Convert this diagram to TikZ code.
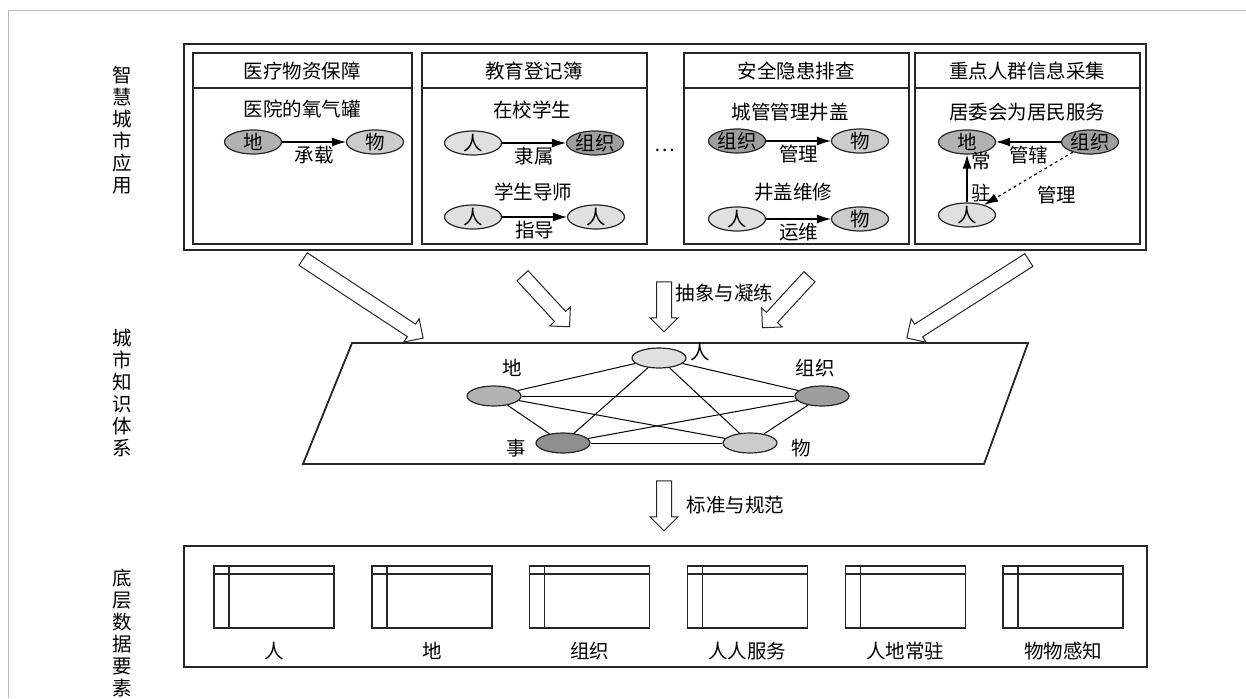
\documentclass[tikz,border=0pt]{standalone}
\usepackage{fontspec}
\setmainfont{Noto Sans CJK SC}
\usetikzlibrary{shapes.geometric,shapes.arrows,arrows.meta,calc}

\definecolor{grisren}{gray}{0.88}
\definecolor{grisdi}{gray}{0.70}
\definecolor{griszu}{gray}{0.62}
\definecolor{griswu}{gray}{0.80}
\definecolor{grisshi}{gray}{0.56}

% flecha hueca entre dos puntos: origen, punta, nombre
\newcommand{\flechahueca}[3]{%
  \path let \p1=($(#2)-(#1)$) in
    node[hueca, minimum height={veclen(\x1,\y1)}, rotate={atan2(\y1,\x1)}]
    (#3) at ($(#1)!0.5!(#2)$) {};}

\begin{document}
\begin{tikzpicture}[x=1pt, y=-1pt, font=\fontsize{19.5}{22}\selectfont,
        marco/.style={draw=black!85, line width=1.8pt},
        panel/.style={draw=black!85, line width=1.4pt},
        ent/.style 2 args={ellipse, draw=black!85, line width=1.2pt, fill=#1,
        minimum width=57pt, minimum height=24pt, inner sep=0pt, label=center:#2},
        nodo/.style={ellipse, draw=black!85, line width=1.2pt, fill=#1,
        minimum width=54pt, minimum height=20pt, inner sep=0pt},
        flecha/.style={line width=1.1pt, -{Latex[length=14pt,width=9pt]}},
        arista/.style={line width=1pt},
        hueca/.style={single arrow, draw=black!85, line width=1pt, fill=white,
        inner xsep=0pt, inner ysep=7pt, single arrow head extend=6.5pt,
        single arrow head indent=0pt},
        tabla/.style={draw=black!85, line width=1.4pt}
    ]
    \useasboundingbox (0,0) rectangle (1246,698);
    \draw[gray!55, line width=1pt] (8,698) -- (8,11) -- (1246,11);

    % etiquetas de nivel
    \node[align=center] (nivel1) at (122,130) {智\\慧\\城\\市\\应\\用};
    \node[align=center] (nivel2) at (122,393) {城\\市\\知\\识\\体\\系};
    \node[align=center] (nivel3) at (122,633) {底\\层\\数\\据\\要\\素};

    % aplicaciones
    \draw[marco] (184,44) rectangle (1146,250);
    \foreach \xa/\xb in {193/412, 422/647, 684/909, 915/1140}{
        \draw[panel] (\xa,53) rectangle (\xb,244);
        \draw[panel] (\xa,88) -- (\xb,88);
    }
    \node (t1) at (302,71) {医疗物资保障};
    \node (s1) at (302,109) {医院的氧气罐};
    \node[ent={grisdi}{地}] (a1) at (253,142) {};
    \node[ent={griswu}{物}] (b1) at (375,142) {};
    \draw[flecha] (a1) -- node[below] {承载} (b1);

    \node (t2) at (534,71) {教育登记簿};
    \node (s2) at (532,110) {在校学生};
    \node[ent={grisren}{人}] (a2) at (473,143) {};
    \node[ent={griszu}{组织}] (b2) at (595,143) {};
    \draw[flecha] (a2) -- node[below] {隶属} (b2);
    \node (s3) at (533,192) {学生导师};
    \node[ent={grisren}{人}] (a3) at (473,217) {};
    \node[ent={grisren}{人}] (b3) at (596,217) {};
    \draw[flecha] (a3) -- node[below] {指导} (b3);

    \node (puntos) at (665,150) {…};

    \node (t3) at (796,71) {安全隐患排查};
    \node (s4) at (790,112) {城管管理井盖};
    \node[ent={griszu}{组织}] (a4) at (737,141) {};
    \node[ent={griswu}{物}] (b4) at (860,141) {};
    \draw[flecha] (a4) -- node[below] {管理} (b4);
    \node (s5) at (793,192) {井盖维修};
    \node[ent={grisren}{人}] (a5) at (737,219) {};
    \node[ent={griswu}{物}] (b5) at (860,219) {};
    \draw[flecha] (a5) -- node[below] {运维} (b5);

    \node (t4) at (1027,71) {重点人群信息采集};
    \node (s6) at (1027,112) {居委会为居民服务};
    \node[ent={grisdi}{地}] (di4) at (967,142) {};
    \node[ent={griszu}{组织}] (zu4) at (1090,142) {};
    \node[ent={grisren}{人}] (ren4) at (967,215) {};
    \draw[flecha] (zu4) -- node[below] {管辖} (di4);
    \draw[flecha] (ren4) -- node[right, pos=0.2, xshift=1pt] {驻}
        node[right, pos=0.86, xshift=1pt] {常} (di4);
    \draw[flecha, dashed] (zu4) -- node[below right, xshift=5pt, yshift=-4pt] {管理} (ren4);

    % flechas huecas
    \coordinate (f1a) at (300,257);  \coordinate (f1b) at (420,336);
    \coordinate (f2a) at (520,273);  \coordinate (f2b) at (567,324);
    \coordinate (f3a) at (664,278);  \coordinate (f3b) at (664,328);
    \coordinate (f4a) at (812,274);  \coordinate (f4b) at (765,325);
    \coordinate (f5a) at (1032,258); \coordinate (f5b) at (910,336);
    \coordinate (f6a) at (664,477);  \coordinate (f6b) at (664,527);
    \flechahueca{f1a}{f1b}{h1}
    \flechahueca{f2a}{f2b}{h2}
    \flechahueca{f3a}{f3b}{h3}
    \flechahueca{f4a}{f4b}{h4}
    \flechahueca{f5a}{f5b}{h5}
    \flechahueca{f6a}{f6b}{h6}
    \node[anchor=west] (abs) at (672,293) {抽象与凝练};
    \node[anchor=west] (norma) at (683,505) {标准与规范};

    % sistema de conocimiento
    \draw[marco] (352,343) -- (1028,343) -- (984,464) -- (303,464) -- cycle;
    \node[nodo=grisren] (gren) at (659,358) {};
    \node[nodo=grisdi] (gdi) at (494,396) {};
    \node[nodo=griszu] (gzu) at (822,396) {};
    \node[nodo=grisshi] (gshi) at (563,443) {};
    \node[nodo=griswu] (gwu) at (750,443) {};
    \foreach \u/\v in {gren/gdi, gren/gzu, gren/gshi, gren/gwu, gdi/gzu,
        gdi/gshi, gdi/gwu, gzu/gshi, gzu/gwu, gshi/gwu}
        \draw[arista] (\u) -- (\v);
    \node (lren) at (700,352) {人};
    \node (ldi) at (512,368) {地};
    \node (lzu) at (815,368) {组织};
    \node (lshi) at (516,448) {事};
    \node (lwu) at (801,448) {物};

    % datos
    \draw[marco] (184,546) rectangle (1147,667);
    \foreach \etiq [count=\i from 0] in {人,地,组织,人人服务,人地常驻,物物感知}{
        \pgfmathsetmacro\xa{214+157.8*\i}
        \draw[tabla] (\xa,566) rectangle ++(120,62);
        \draw[tabla] (\xa,574) -- ++(120,0);
        \draw[tabla] (\xa+15,566) -- ++(0,62);
        \node (dato\i) at (\xa+60,651) {\etiq};
    }
\end{tikzpicture}
\end{document}
